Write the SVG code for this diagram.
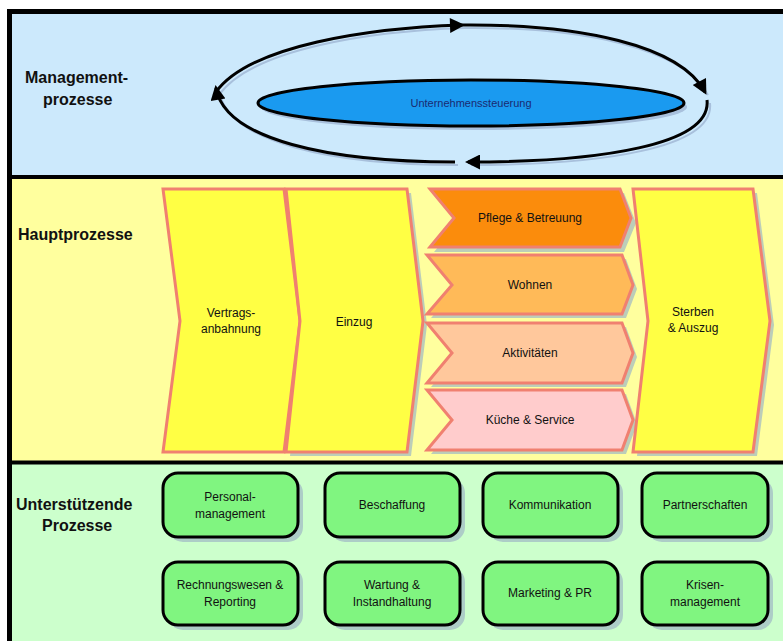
<svg xmlns="http://www.w3.org/2000/svg" width="783" height="642" viewBox="0 0 783 642">
<defs>
<style>
.lbl{font-family:"Liberation Sans",Arial,sans-serif;font-weight:bold;font-size:16px;fill:#111}
.t{font-family:"Liberation Sans",Arial,sans-serif;font-size:12px;fill:#111;text-anchor:middle}
.chev{stroke:#f08070;stroke-width:3;stroke-linejoin:miter}
.sh{fill:#9fb8c4;opacity:0.7}
.box{fill:#80f580;stroke:#000;stroke-width:3}
.arr{fill:none;stroke:#000;stroke-width:3}
.arrsh{fill:none;stroke:#a8c0dc;stroke-width:2}
</style>
<marker id="ah" viewBox="0 0 10 10" refX="8" refY="5" markerWidth="6" markerHeight="5" orient="auto" markerUnits="strokeWidth">
<path d="M0,0 L10,5 L0,10 z" fill="#000"/>
</marker>
</defs>
<rect width="783" height="642" fill="#fff"/>
<rect x="10" y="11" width="780" height="166" fill="#cce9fc"/>
<rect x="10" y="179" width="780" height="284" fill="#ffff9e"/>
<rect x="10" y="463" width="780" height="178" fill="#ccffcc"/>
<path d="M9.5,641 V11.5 H783" fill="none" stroke="#000" stroke-width="5"/>
<line x1="9" y1="177" x2="783" y2="177" stroke="#000" stroke-width="4"/>
<line x1="9" y1="462.5" x2="783" y2="462.5" stroke="#000" stroke-width="4"/>
<text class="lbl" x="25" y="83">Management-</text>
<text class="lbl" x="43" y="105">prozesse</text>
<text class="lbl" x="18" y="240">Hauptprozesse</text>
<text class="lbl" x="16" y="510">Unterstützende</text>
<text class="lbl" x="42" y="531">Prozesse</text>
<g id="connectors">
<g transform="translate(3,3)">
<path class="arrsh" d="M216,92 C250,45 370,28 462,25"/>
<path class="arrsh" d="M462,25 C580,24 680,45 705,92"/>
<path class="arrsh" d="M707,100 C712,145 600,162 468,162"/>
<path class="arrsh" d="M455,162 C330,162 225,140 216,88"/>
</g>
<path class="arr" d="M216,92 C250,45 370,28 462,25" marker-end="url(#ah)"/>
<path class="arr" d="M462,25 C580,24 680,45 705,92" marker-end="url(#ah)"/>
<path class="arr" d="M707,100 C712,145 600,162 468,162" marker-end="url(#ah)"/>
<path class="arr" d="M455,162 C330,162 225,140 216,88" marker-end="url(#ah)"/>
</g>
<g id="n-steuerung">
<ellipse cx="474" cy="107" rx="213" ry="23" fill="#a8c0dc"/>
<ellipse cx="471" cy="103" rx="213" ry="23" fill="#1a9af0" stroke="#000" stroke-width="3"/>
<text class="t" x="471" y="107" style="font-size:11px;fill:#1a2a70">Unternehmenssteuerung</text>
</g>
<g id="n-vertrag">
<polygon class="chev" points="163,189 284,189 300,321 284,452 163,452 180,321" fill="#ffff44"/>
<text class="t" x="231" y="317">Vertrags-</text>
<text class="t" x="231" y="333">anbahnung</text>
</g>
<g id="n-einzug">
<polygon class="sh" points="290,193 411,193 427,325 411,456 290,456 303,325"/>
<polygon class="chev" points="286,189 407,189 423,321 407,452 286,452 300,321" fill="#ffff44"/>
<text class="t" x="354" y="326">Einzug</text>
</g>
<g id="n-pflege">
<polygon class="sh" points="434,193 624,193 636,223 624,252 434,252 458,223"/>
<polygon class="chev" points="430,189 620,189 631,218 620,247 430,247 454,218" fill="#fb8c0c"/>
<text class="t" x="530" y="222">Pflege &amp; Betreuung</text>
</g>
<g id="n-wohnen">
<polygon class="sh" points="431,259 626,259 637,289 626,318 431,318 456,289"/>
<polygon class="chev" points="427,255 622,255 633,285 622,314 427,314 452,285" fill="#ffba58"/>
<text class="t" x="530" y="289">Wohnen</text>
</g>
<g id="n-aktiv">
<polygon class="sh" points="431,327 626,327 637,357 626,387 431,387 456,357"/>
<polygon class="chev" points="427,323 622,323 633,353 622,383 427,383 452,353" fill="#ffc89c"/>
<text class="t" x="530" y="357">Aktivitäten</text>
</g>
<g id="n-kueche">
<polygon class="sh" points="431,394 626,394 637,424 626,454 431,454 456,424"/>
<polygon class="chev" points="427,390 622,390 633,420 622,450 427,450 452,420" fill="#ffcccc"/>
<text class="t" x="530" y="424">Küche &amp; Service</text>
</g>
<g id="n-sterben">
<polygon class="sh" points="637,193 757,193 774,325 757,456 637,456 652,325"/>
<polygon class="chev" points="633,189 753,189 770,321 753,452 633,452 648,321" fill="#ffff44"/>
<text class="t" x="693" y="316">Sterben</text>
<text class="t" x="693" y="332">&amp; Auszug</text>
</g>
<g id="n-personal">
<rect class="sh" x="168" y="478" width="135" height="64" rx="15"/>
<rect class="box" x="163" y="473" width="135" height="64" rx="15"/>
<text class="t" x="230" y="501">Personal-</text>
<text class="t" x="230" y="518">management</text>
</g>
<g id="n-beschaffung">
<rect class="sh" x="330" y="478" width="135" height="64" rx="15"/>
<rect class="box" x="325" y="473" width="135" height="64" rx="15"/>
<text class="t" x="392" y="509">Beschaffung</text>
</g>
<g id="n-kommunikation">
<rect class="sh" x="488" y="478" width="135" height="64" rx="15"/>
<rect class="box" x="483" y="473" width="135" height="64" rx="15"/>
<text class="t" x="550" y="509">Kommunikation</text>
</g>
<g id="n-partner">
<rect class="sh" x="647" y="478" width="126" height="64" rx="15"/>
<rect class="box" x="642" y="473" width="126" height="64" rx="15"/>
<text class="t" x="705" y="509">Partnerschaften</text>
</g>
<g id="n-rechnung">
<rect class="sh" x="168" y="567" width="135" height="63" rx="15"/>
<rect class="box" x="163" y="562" width="135" height="63" rx="15"/>
<text class="t" x="230" y="589">Rechnungswesen &amp;</text>
<text class="t" x="230" y="606">Reporting</text>
</g>
<g id="n-wartung">
<rect class="sh" x="330" y="567" width="135" height="63" rx="15"/>
<rect class="box" x="325" y="562" width="135" height="63" rx="15"/>
<text class="t" x="392" y="589">Wartung &amp;</text>
<text class="t" x="392" y="606">Instandhaltung</text>
</g>
<g id="n-marketing">
<rect class="sh" x="488" y="567" width="135" height="63" rx="15"/>
<rect class="box" x="483" y="562" width="135" height="63" rx="15"/>
<text class="t" x="550" y="597">Marketing &amp; PR</text>
</g>
<g id="n-krisen">
<rect class="sh" x="647" y="567" width="126" height="63" rx="15"/>
<rect class="box" x="642" y="562" width="126" height="63" rx="15"/>
<text class="t" x="705" y="589">Krisen-</text>
<text class="t" x="705" y="606">management</text>
</g>
</svg>
